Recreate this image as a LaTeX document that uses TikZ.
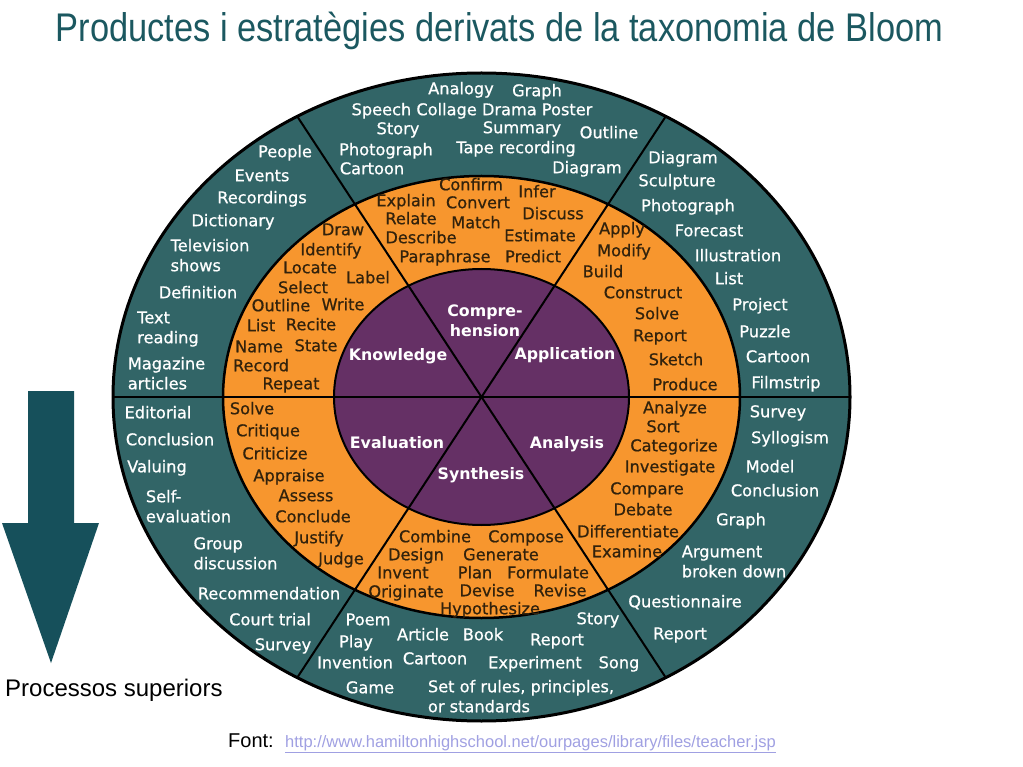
\documentclass[tikz,border=0pt]{standalone}
\usepackage{fontspec}
\setmainfont{Liberation Sans}
\newfontfamily\wheelfont[FakeBold=0.7]{DejaVu Sans}
\newfontfamily\levelfont{DejaVu Sans}
\usetikzlibrary{positioning}

\definecolor{wheelteal}{RGB}{50,101,103}
\definecolor{wheelorange}{RGB}{247,150,46}
\definecolor{wheelpurple}{RGB}{101,48,101}
\definecolor{titleteal}{RGB}{27,88,96}
\definecolor{arrowteal}{RGB}{22,80,91}
\definecolor{verbink}{RGB}{50,34,12}
\definecolor{linkblue}{RGB}{160,160,226}

\begin{document}
\begin{tikzpicture}
[x=1pt,y=-1pt
,prod/.style={text=white,font=\wheelfont\fontsize{16.2}{20}\selectfont,inner sep=0pt,align=left,text height=12.5pt,text depth=0pt}
,verb/.style={prod,text=verbink}
,lvl/.style={text=white,font=\levelfont\bfseries\fontsize{15.8}{20}\selectfont,inner sep=0pt,align=center,text height=12.5pt,text depth=0pt}
,ring/.style={draw=black,line width=2.5pt}
,spoke/.style={draw=black,line width=2pt}
,note/.style={inner sep=0pt,anchor=base west}
]
\useasboundingbox (0,0) rectangle (1023,767);

% title and notes
\node[text=titleteal,font=\fontsize{40}{44}\selectfont,xscale=0.86,anchor=base] (title) at (499.5,42)
  {Productes i estratègies derivats de la taxonomia de Bloom};
\fill[arrowteal] (28,391) -- (74,391) -- (74,523) -- (99,523) -- (51,663) -- (2,523) -- (28,523) -- cycle;
\node[note,font=\fontsize{24}{28}\selectfont] (higher) at (5,696) {Processos superiors};
\node[note,font=\fontsize{20}{24}\selectfont] (source) at (228,747) {Font:};
\node[note,font=\fontsize{16.5}{20}\selectfont,text=linkblue,base right=11pt of source] (link)
  {\underline{http://www.hamiltonhighschool.net/ourpages/library/files/teacher.jsp}};

% wheel
\coordinate (c) at (481.5,397);
\fill[wheelteal] (c) ellipse [x radius=368.5pt,y radius=324pt];
\fill[wheelorange] (c) ellipse [x radius=258.5pt,y radius=221pt];
\fill[wheelpurple] (c) ellipse [x radius=147.5pt,y radius=128pt];
\foreach \a in {0,60,...,300}{
  \path (c) ++(\a:368.5pt and 324pt) coordinate (s\a);
  \draw[spoke] (c) -- (s\a);
}
\draw[spoke] (c) ellipse [x radius=147.5pt,y radius=128pt];
\draw[ring] (c) ellipse [x radius=258.5pt,y radius=221pt];
\draw[draw=black,line width=3pt] (c) ellipse [x radius=368.5pt,y radius=324pt];

% products
\foreach \x/\y/\t [count=\i] in {461/88/Analogy,537/90/Graph,472/109/Speech Collage Drama Poster,
  398/128/Story,522/127/Summary,609/132/Outline,386/149/Photograph,516/147/Tape recording,
  372/168/Cartoon,587/167/Diagram,
  683/157/Diagram,677/180/Sculpture,688/205/Photograph,709/230/Forecast,738/255/Illustration,
  729/278/List,760/304/Project,765/331/Puzzle,778/356/Cartoon,786/382/Filmstrip,
  285/151/People,262/175/Events,262/197/Recordings,233/220/Dictionary,210/265/Television\\shows,
  198/292/Definition,168/337/Text\\reading,166.5/383/Magazine\\articles,
  158/412/Editorial,170/439/Conclusion,157/466/Valuing,188.5/516/Self-\\evaluation,
  235.5/563/Group\\discussion,269/593/Recommendation,270/619/Court trial,283/644/Survey,
  368/619/Poem,356/641/Play,355/662/Invention,370/687/Game,423/634/Article,483/634/Book,
  435/658/Cartoon,557/639/Report,598/618/Story,535/662/Experiment,619/662/Song,
  521/706/{Set of rules, principles,\\or standards},
  778/411/Survey,790/437/Syllogism,770/466/Model,775/490/Conclusion,741/519/Graph,
  734/571/Argument\\broken down,685/601/Questionnaire,680/633/Report}
  \node[prod] (prod\i) at (\x,\y) {\t};

% verbs
\foreach \x/\y/\t [count=\i] in {471/184/Confirm,537/191/Infer,406/200/Explain,478/202/Convert,
  553/213/Discuss,411/218/Relate,476/222/Match,421/237/Describe,540/235/Estimate,
  445/256/Paraphrase,533/256/Predict,
  343/229/Draw,331/249/Identify,310/267/Locate,368/277/Label,303/287/Select,281/305/Outline,
  343/304/Write,261/325/List,311/324/Recite,259/346/Name,316/345/State,261/365/Record,291/383/Repeat,
  622/228/Apply,624/250/Modify,603/271/Build,643/292/Construct,657/313/Solve,660/335/Report,
  676/359/Sketch,685/384/Produce,
  675/407/Analyze,663/426/Sort,674/445/Categorize,670/466/Investigate,647/488/Compare,
  643/509/Debate,628/531/Differentiate,627/551/Examine,
  435/536/Combine,526/536/Compose,416/554/Design,501/554/Generate,403/572/Invent,475/572/Plan,
  548/572/Formulate,406/591/Originate,487/590/Devise,560/590/Revise,490/608/Hypothesize,
  252/408/Solve,268/430/Critique,275/453/Criticize,289/475/Appraise,306/495/Assess,
  313/516/Conclude,319/537/Justify,341/558/Judge}
  \node[verb] (verb\i) at (\x,\y) {\t};

% levels
\foreach \x/\y/\t [count=\i] in {485/330/Compre-\\hension,398/354/Knowledge,565/353/Application,
  397/442/Evaluation,567/442/Analysis,481/473/Synthesis}
  \node[lvl] (lvl\i) at (\x,\y) {\t};
\end{tikzpicture}
\end{document}
